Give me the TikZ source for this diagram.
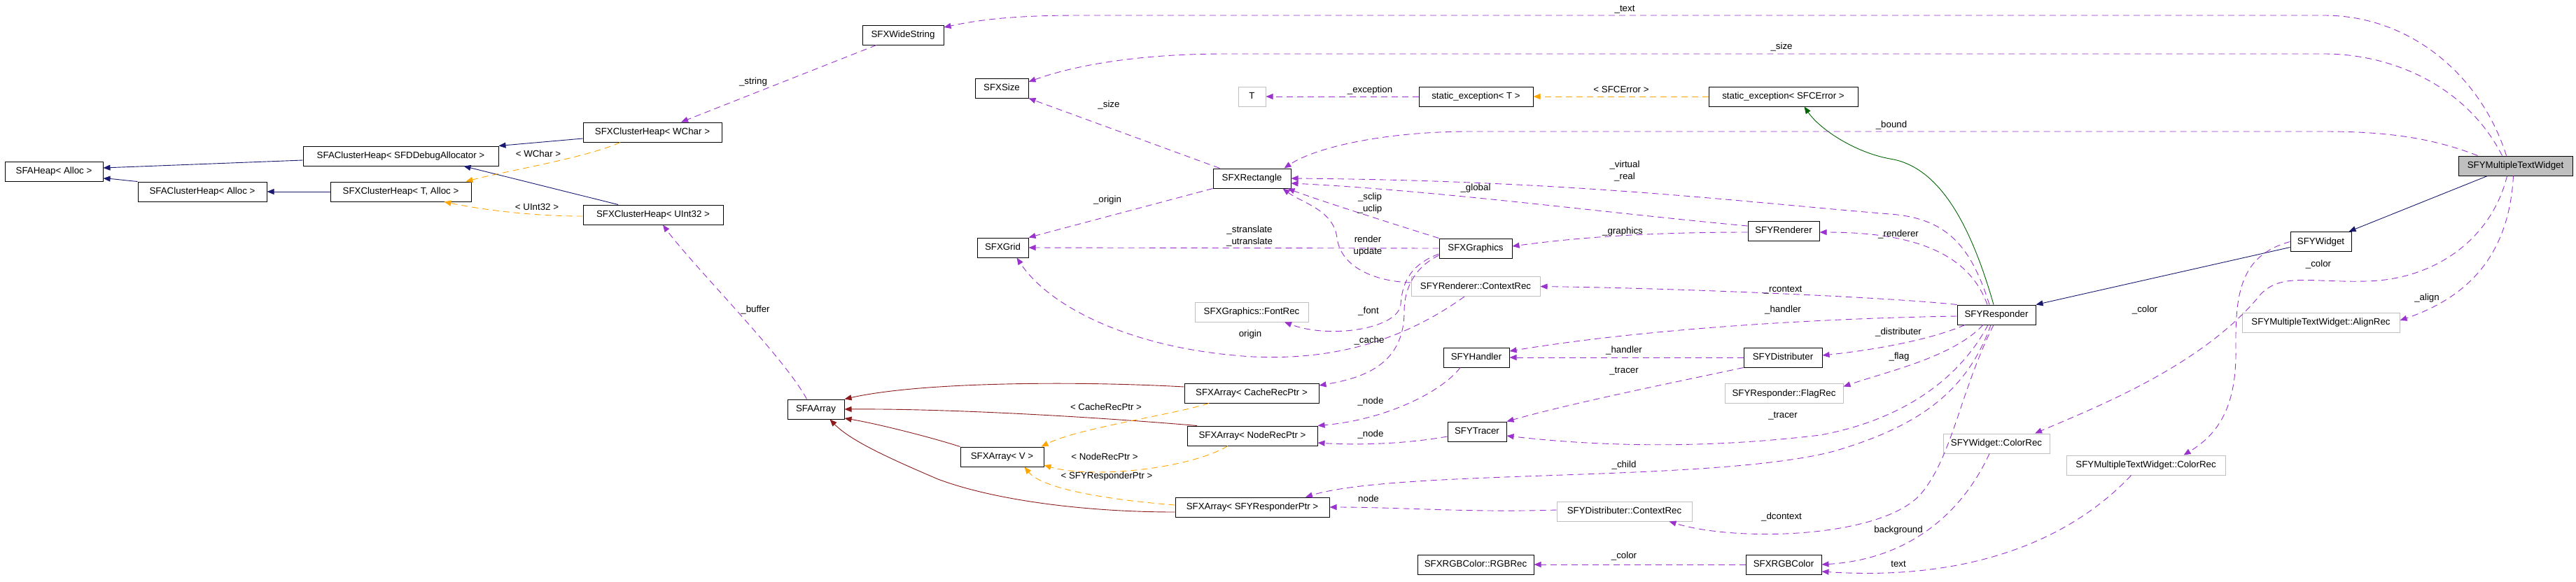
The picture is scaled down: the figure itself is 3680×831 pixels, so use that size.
\documentclass[tikz,border=0pt]{standalone}
\usepackage{fontspec}
\setmainfont{Liberation Sans}
\usetikzlibrary{arrows.meta}
\definecolor{purp}{HTML}{9A32CD}
\definecolor{orng}{HTML}{FFA500}
\definecolor{navyc}{HTML}{191970}
\definecolor{dgreen}{HTML}{006400}
\definecolor{dredc}{HTML}{8B1A1A}
\definecolor{gry}{HTML}{BFBFBF}
\begin{document}
\begin{tikzpicture}[x=1pt,y=-1pt,
  every node/.style={font=\fontsize{13.3}{17}\selectfont},
  cls/.style={draw=black,line width=1pt,minimum height=28pt,inner sep=0pt,text height=9.5pt,text depth=2.5pt},
  ext/.style={cls,draw=gry},
  hl/.style={cls,fill=gry},
  lbl/.style={inner sep=0pt,text height=9.5pt,text depth=2.5pt},
  lbltwo/.style={inner sep=0pt,align=center},
  arrowbase/.style={line width=0.9pt,-{Triangle[length=10pt,width=8pt]}},
  usedge/.style={arrowbase,purp,dash pattern=on 9pt off 6pt},
  tmpledge/.style={arrowbase,orng,dash pattern=on 9pt off 6pt},
  pubedge/.style={arrowbase,navyc},
  protedge/.style={arrowbase,dgreen},
  privedge/.style={arrowbase,dredc}]
\fill[white] (0,0) rectangle (3680,831);
\useasboundingbox (0,0) rectangle (3680,831);

% nodes
\node[cls,minimum width=140pt] (heap) at (77,245) {SFAHeap< Alloc >};
\node[cls,minimum width=279pt] (chsfd) at (572.5,223) {SFAClusterHeap< SFDDebugAllocator >};
\node[cls,minimum width=184pt] (cha) at (289,274) {SFAClusterHeap< Alloc >};
\node[cls,minimum width=201pt] (xcht) at (572.5,274) {SFXClusterHeap< T, Alloc >};
\node[cls,minimum width=198pt] (xchw) at (932,189) {SFXClusterHeap< WChar >};
\node[cls,minimum width=200pt] (xchu) at (933,307) {SFXClusterHeap< UInt32 >};
\node[cls,minimum width=116pt] (wstr) at (1290,50) {SFXWideString};
\node[cls,minimum width=76pt] (size) at (1431,126) {SFXSize};
\node[ext,minimum width=39pt] (T) at (1788.5,138) {T};
\node[cls,minimum width=111pt] (rect) at (1788.5,255) {SFXRectangle};
\node[cls,minimum width=73pt] (grid) at (1432.5,354) {SFXGrid};
\node[cls,minimum width=163pt] (sexT) at (2108.5,138) {static\_exception< T >};
\node[cls,minimum width=213pt] (sexE) at (2547.5,138) {static\_exception< SFCError >};
\node[cls,minimum width=102pt] (rend) at (2548,330) {SFYRenderer};
\node[cls,minimum width=104pt] (gfx) at (2108,355) {SFXGraphics};
\node[ext,minimum width=184pt] (rctx) at (2108,409.5) {SFYRenderer::ContextRec};
\node[hl,minimum width=163pt] (mtw) at (3593.5,237) {SFYMultipleTextWidget};
\node[cls,minimum width=87pt] (widget) at (3315.5,345.5) {SFYWidget};
\node[cls,minimum width=112pt] (resp) at (2852,450) {SFYResponder};
\node[ext,minimum width=225pt] (align) at (3315.5,461) {SFYMultipleTextWidget::AlignRec};
\node[ext,minimum width=152pt] (wcolor) at (2852,634) {SFYWidget::ColorRec};
\node[ext,minimum width=227pt] (mcolor) at (3065.5,665) {SFYMultipleTextWidget::ColorRec};
\node[cls,minimum width=81pt] (arr) at (1165.5,585) {SFAArray};
\node[cls,minimum width=119pt] (arrV) at (1431.5,653) {SFXArray< V >};
\node[cls,minimum width=192pt] (arrC) at (1788,562) {SFXArray< CacheRecPtr >};
\node[cls,minimum width=186pt] (arrN) at (1789,623) {SFXArray< NodeRecPtr >};
\node[cls,minimum width=220pt] (arrR) at (1789,725) {SFXArray< SFYResponderPtr >};
\node[ext,minimum width=162pt] (font) at (1788,446) {SFXGraphics::FontRec};
\node[cls,minimum width=94pt] (handler) at (2109,511) {SFYHandler};
\node[cls,minimum width=112pt] (dist) at (2547,511) {SFYDistributer};
\node[ext,minimum width=169pt] (flag) at (2548.5,562.5) {SFYResponder::FlagRec};
\node[cls,minimum width=84pt] (tracer) at (2110,617) {SFYTracer};
\node[ext,minimum width=193pt] (dctx) at (2320.5,731) {SFYDistributer::ContextRec};
\node[cls,minimum width=166pt] (rgbrec) at (2108,807) {SFXRGBColor::RGBRec};
\node[cls,minimum width=108pt] (rgb) at (2548,807) {SFXRGBColor};

% inheritance
\draw[pubedge] ([yshift=-6pt]chsfd.west) -- ([yshift=5pt]heap.east);
\draw[pubedge] (cha.north west) .. controls (180,258) and (165,256) .. ([yshift=-10pt]heap.east);
\draw[pubedge] (xcht.west) -- (cha.east);
\draw[pubedge] ([yshift=-9pt]xchw.west) -- (chsfd.north east);
\draw[pubedge] ([xshift=-50pt]xchu.north) -- ([xshift=90pt]chsfd.south);
\draw[pubedge] ([xshift=-40pt]mtw.south) -- ([xshift=40pt]widget.north);
\draw[pubedge] ([yshift=-8pt]widget.west) -- (resp.north east);
\draw[protedge] ([xshift=-4pt]resp.north) .. controls (2815,320) and (2770,238) .. (2700,227) .. controls (2650,218) and (2600,185) .. ([xshift=30pt]sexE.south);
\draw[privedge] ([yshift=9pt]arrC.west) .. controls (1550,545) and (1320,545) .. (arr.north east);
\draw[privedge] ([xshift=-79pt]arrN.north) .. controls (1550,595) and (1350,584) .. (arr.east);
\draw[privedge] (arrV.north west) .. controls (1330,625) and (1250,605) .. ([yshift=-13pt]arr.east);
\draw[privedge] ([yshift=-7pt]arrR.west) .. controls (1550,732) and (1420,715) .. (1340,685) .. controls (1270,655) and (1215,630) .. ([xshift=20pt]arr.south);

% template instances
\draw[tmpledge] ([xshift=-46pt]xchw.south) .. controls (840,225) and (720,245) .. ([xshift=93pt]xcht.north);
\draw[tmpledge] ([yshift=-2pt]xchu.west) .. controls (760,309) and (690,300) .. ([xshift=62pt]xcht.south);
\draw[tmpledge] (sexE.west) -- (sexT.east);
\draw[tmpledge] ([xshift=-61pt]arrC.south) .. controls (1680,592) and (1540,612) .. ([xshift=56pt]arrV.north);
\draw[tmpledge] ([xshift=-35pt]arrN.south) .. controls (1700,670) and (1560,685) .. ([yshift=-12pt]arrV.east);
\draw[tmpledge] ([yshift=3pt]arrR.west) .. controls (1590,715) and (1490,700) .. ([xshift=32pt]arrV.south);

% usage
\draw[usedge] ([xshift=-38pt]wstr.south) -- ([xshift=41pt]xchw.north);
\draw[usedge] ([xshift=-13pt]arr.north) .. controls (1120,510) and (990,380) .. ([xshift=14pt]xchu.south);
\draw[usedge] ([xshift=-13pt]mtw.north) .. controls (3545,110) and (3445,22) .. (3320,22) -- (1540,22) .. controls (1450,22) and (1400,28) .. ([yshift=11pt]wstr.east);
\draw[usedge] ([xshift=-19pt]mtw.north) .. controls (3525,125) and (3420,77) .. (3320,77) -- (1750,77) .. controls (1620,77) and (1530,95) .. ([yshift=9pt]size.east);
\draw[usedge] ([xshift=-54pt]mtw.north) .. controls (3470,195) and (3400,188) .. (3320,188) -- (2100,188) .. controls (1980,188) and (1880,210) .. ([xshift=46pt]rect.north);
\draw[usedge] ([xshift=-46pt]rect.north) -- (size.south east);
\draw[usedge] (rect.south west) -- (grid.north east);
\draw[usedge] (gfx.west) -- (grid.east);
\draw[usedge] (sexT.west) -- (T.east);
\draw[usedge] ([xshift=-10pt]resp.north) .. controls (2815,350) and (2780,312) .. (2700,306) .. controls (2500,290) and (2250,258) .. (rect.east);
\draw[usedge] ([yshift=7pt]rend.west) .. controls (2300,305) and (2050,272) .. ([yshift=-7pt]rect.east);
\draw[usedge] ([yshift=-2pt]rend.west) .. controls (2350,332) and (2250,340) .. ([yshift=3pt]gfx.east);
\draw[usedge] ([xshift=-13pt]resp.north) .. controls (2810,355) and (2720,332) .. ([yshift=-2pt]rend.east);
\draw[usedge] (resp.north west) .. controls (2700,425) and (2400,412) .. (rctx.east);
\draw[usedge] ([yshift=-2pt]resp.west) .. controls (2600,455) and (2350,470) .. ([yshift=9pt]handler.east);
\draw[usedge] ([xshift=-45pt]resp.south) .. controls (2760,485) and (2680,500) .. ([yshift=3pt]dist.east);
\draw[usedge] ([xshift=-19pt]resp.south) .. controls (2790,510) and (2700,530) .. ([yshift=10pt]flag.east);
\draw[usedge] ([xshift=-12pt]resp.south) .. controls (2800,540) and (2720,600) .. (2600,622) .. controls (2450,640) and (2300,640) .. ([yshift=-6pt]tracer.east);
\draw[usedge] ([xshift=-8pt]resp.south) .. controls (2810,560) and (2740,610) .. (2620,645) .. controls (2450,690) and (2000,670) .. ([xshift=76pt]arrR.north);
\draw[usedge] ([xshift=-4pt]resp.south) .. controls (2800,560) and (2790,650) .. (2745,705) .. controls (2690,770) and (2480,775) .. ([xshift=64pt]dctx.south);
\draw[usedge] (dist.west) -- (handler.east);
\draw[usedge] (dist.south west) .. controls (2400,545) and (2250,575) .. (tracer.north east);
\draw[usedge] ([xshift=-23pt]handler.south) .. controls (2060,560) and (1980,600) .. (arrN.north east);
\draw[usedge] ([yshift=-7pt]tracer.west) .. controls (2000,636) and (1930,636) .. ([yshift=-10pt]arrN.east);
\draw[usedge] ([yshift=2pt]dctx.west) .. controls (2100,733) and (2000,725) .. (arrR.east);
\draw[usedge] (rgb.west) -- (rgbrec.east);
\draw[usedge] ([xshift=-10pt]wcolor.south) .. controls (2800,740) and (2720,800) .. (rgb.east);
\draw[usedge] ([xshift=-21pt]mcolor.south) .. controls (2950,780) and (2800,830) .. ([yshift=-10pt]rgb.east);
\draw[usedge] (widget.west) .. controls (3200,365) and (3193,420) .. (3194,500) .. controls (3195,580) and (3170,620) .. ([xshift=54pt]mcolor.north);
\draw[usedge] ([xshift=-12pt]mtw.south) .. controls (3560,340) and (3480,400) .. (3380,402) .. controls (3300,404) and (3260,390) .. (3230,420) .. controls (3150,520) and (3000,580) .. ([xshift=55pt]wcolor.north);
\draw[usedge] ([xshift=-3pt]mtw.south) .. controls (3585,350) and (3540,420) .. ([yshift=3pt]align.east);
\draw[usedge] ([yshift=5.5pt]rctx.west) .. controls (1960,402) and (1915,380) .. (1910,340) .. controls (1905,300) and (1860,290) .. ([xshift=44pt]rect.south);
\draw[usedge] ([xshift=-16pt]rctx.south) .. controls (2000,490) and (1900,515) .. (1790,510) .. controls (1620,500) and (1500,440) .. ([xshift=20pt]grid.south);
\draw[usedge] (gfx.north west) .. controls (1990,320) and (1880,285) .. ([xshift=51pt]rect.south);
\draw[usedge] ([yshift=-8pt]gfx.west) .. controls (2010,380) and (2003,410) .. (2001,435) .. controls (1998,470) and (1900,485) .. ([xshift=47pt]font.south);
\draw[usedge] ([yshift=-10pt]gfx.west) .. controls (2015,385) and (2006,420) .. (2006,445) .. controls (2006,520) and (1950,540) .. ([yshift=11pt]arrC.east);

% labels
\node[lbl] (l1) at (2321,13) {\_text};
\node[lbl] (l2) at (2545,67) {\_size};
\node[lbl] (l3) at (2702,179) {\_bound};
\node[lbl] (l4) at (1076,117) {\_string};
\node[lbl] (l5) at (1584,150) {\_size};
\node[lbl] (l6) at (769,221) {< WChar >};
\node[lbl] (l7) at (767,297) {< UInt32 >};
\node[lbl] (l8) at (1957,129) {\_exception};
\node[lbl] (l9) at (2316,129) {< SFCError >};
\node[lbl] (l10) at (1582,286) {\_origin};
\node[lbltwo] (l11) at (2321,244) {\_virtual\\\_real};
\node[lbl] (l12) at (2108,269) {\_global};
\node[lbltwo] (l13) at (1957,291) {\_sclip\\\_uclip};
\node[lbltwo] (l14) at (1785,337) {\_stranslate\\\_utranslate};
\node[lbltwo] (l15) at (1954,352) {render\\update};
\node[lbl] (l16) at (2318,331) {\_graphics};
\node[lbl] (l17) at (2712,335) {\_renderer};
\node[lbl] (l18) at (2547,414) {\_rcontext};
\node[lbl] (l19) at (1955,445) {\_font};
\node[lbl] (l20) at (1786,478) {origin};
\node[lbl] (l21) at (1956,487) {\_cache};
\node[lbl] (l22) at (2547,443) {\_handler};
\node[lbl] (l23) at (2712,475) {\_distributer};
\node[lbl] (l24) at (2320,501) {\_handler};
\node[lbl] (l25) at (2713,510) {\_flag};
\node[lbl] (l26) at (2320,530) {\_tracer};
\node[lbl] (l27) at (1958,574) {\_node};
\node[lbl] (l28) at (2547,594) {\_tracer};
\node[lbl] (l29) at (1958,621) {\_node};
\node[lbl] (l30) at (2320,665) {\_child};
\node[lbl] (l31) at (1955,714) {node};
\node[lbl] (l32) at (2545,739) {\_dcontext};
\node[lbl] (l33) at (2712,758) {background};
\node[lbl] (l34) at (2320,795) {\_color};
\node[lbl] (l35) at (2712,807) {text};
\node[lbl] (l36) at (1580,583) {< CacheRecPtr >};
\node[lbl] (l37) at (1578,654) {< NodeRecPtr >};
\node[lbl] (l38) at (1581,681) {< SFYResponderPtr >};
\node[lbl] (l39) at (1079,443) {\_buffer};
\node[lbl] (l40) at (3312,378) {\_color};
\node[lbl] (l41) at (3064,443) {\_color};
\node[lbl] (l42) at (3467,426) {\_align};
\end{tikzpicture}
\end{document}
